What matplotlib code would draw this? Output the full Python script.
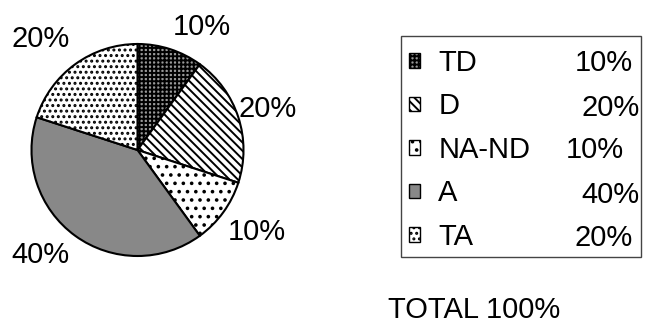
import matplotlib
matplotlib.use('Agg')
import matplotlib.pyplot as plt
from matplotlib.patches import Patch, Rectangle

# ---- data ----
categories = ['TD', 'D', 'NA-ND', 'A', 'TA']
values = [10, 20, 10, 40, 20]
pct_labels = ['10%', '20%', '10%', '40%', '20%']
total_label = 'TOTAL 100%'

# ---- styles ----
facecolors = ['#9a9a9a', 'white', 'white', '#888888', 'white']
hatches = ['++++', '\\\\\\\\', '..', '', '...']

plt.rcParams['font.family'] = ['Liberation Sans', 'DejaVu Sans']
plt.rcParams['hatch.linewidth'] = 1.4
FS = 21

W, H = 648, 325
fig = plt.figure(figsize=(W / 100, H / 100), dpi=100)

# pie axes (pixel layout)
cx, cy, R = 137.5, 150, 106
pad = 1.1
ax = fig.add_axes([(cx - pad * R) / W, (H - cy - pad * R) / H, 2 * pad * R / W, 2 * pad * R / H])
wedges, _ = ax.pie(values, startangle=90, counterclock=False, colors=facecolors,
                   wedgeprops=dict(edgecolor='black', linewidth=1.5))
for w, h in zip(wedges, hatches):
    w.set_hatch(h)
ax.set_xlim(-pad, pad)
ax.set_ylim(-pad, pad)
ax.set_aspect('equal')
ax.axis('off')

# pie percentage labels (layout positions, in radius units, baseline)
label_xy = [(0.604, 1.085), (1.23, 0.311), (1.13, -0.849), (-0.915, -1.066), (-0.915, 0.972)]
for (lx, ly), t in zip(label_xy, pct_labels):
    ax.text(lx, ly, t, ha='center', va='baseline', fontsize=FS, clip_on=False)

# legend
handles = [Patch(facecolor=fc, edgecolor='black', hatch=h, linewidth=1.0)
           for fc, h in zip(facecolors, hatches)]
leg = fig.legend(handles, categories, loc='upper left',
                 bbox_to_anchor=(409 / W, 1 - 49 / H), bbox_transform=fig.transFigure,
                 frameon=False, fontsize=FS, borderpad=0, borderaxespad=0,
                 handlelength=0.38, handleheight=0.38, handletextpad=0.62,
                 labelspacing=0.53)

# legend frame
fig.add_artist(Rectangle((401 / W, 1 - 257 / H), 240 / W, 221 / H, transform=fig.transFigure,
                         facecolor='none', edgecolor='#444444', linewidth=1.0))

# legend percentages (right edges, baselines in pixels)
pct_right = [633, 640, 624, 639, 633]
pct_base = [71, 116, 158, 203, 246]
for x, y, t in zip(pct_right, pct_base, pct_labels):
    fig.text(x / W, 1 - y / H, t, ha='right', va='baseline', fontsize=FS)

fig.text(388 / W, 1 - 318 / H, total_label, ha='left', va='baseline', fontsize=FS)

fig.savefig('out.png', dpi=100)
